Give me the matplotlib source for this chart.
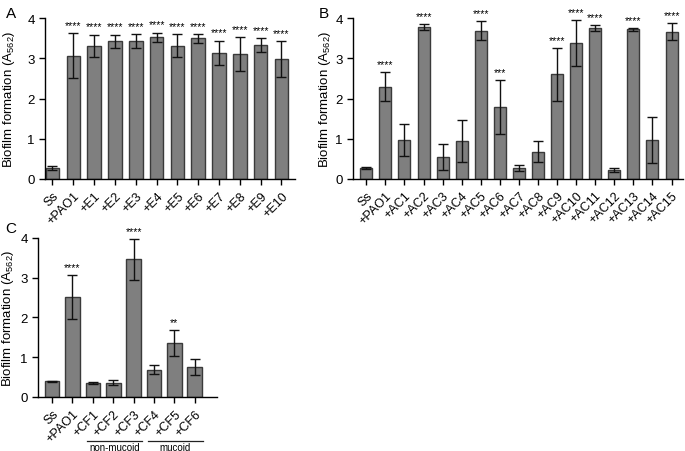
import matplotlib
matplotlib.use('Agg')
import matplotlib.pyplot as plt
import matplotlib.transforms as mtransforms
import numpy as np

plt.rcParams.update({
    'font.family': 'sans-serif',
    'font.sans-serif': ['Arial', 'Liberation Sans', 'DejaVu Sans'],
    'mathtext.default': 'regular',
    'font.size': 8.5,
    'axes.linewidth': 1.0,
    'xtick.major.width': 1.0,
    'ytick.major.width': 1.0,
    'xtick.major.size': 4,
    'ytick.major.size': 4,
    'axes.spines.top': False,
    'axes.spines.right': False,
})

BAR = '#7f7f7f'
EDGE = '#3a3a3a'

# ── Data ────────────────────────────────────────────────────
a_labels = ['Ss', '+PAO1', '+E1', '+E2', '+E3', '+E4', '+E5', '+E6',
            '+E7', '+E8', '+E9', '+E10']
a_mean = [0.27, 3.07, 3.31, 3.43, 3.43, 3.53, 3.32, 3.50, 3.14, 3.11, 3.33, 2.98]
a_err = [0.05, 0.56, 0.28, 0.16, 0.17, 0.11, 0.29, 0.11, 0.30, 0.42, 0.18, 0.45]
a_sig = ['', '****', '****', '****', '****', '****', '****', '****',
         '****', '****', '****', '****']

b_labels = ['Ss', '+PAO1'] + ['+AC%d' % i for i in range(1, 16)]
b_mean = [0.27, 2.30, 0.97, 3.78, 0.54, 0.94, 3.69, 1.79, 0.27, 0.68,
          2.60, 3.38, 3.75, 0.21, 3.72, 0.97, 3.66]
b_err = [0.03, 0.35, 0.40, 0.08, 0.32, 0.53, 0.23, 0.67, 0.08, 0.27,
         0.65, 0.58, 0.07, 0.05, 0.03, 0.57, 0.21]
b_sig = ['', '****', '', '****', '', '', '****', '***', '', '',
         '****', '****', '****', '', '****', '', '****']

c_labels = ['Ss', '+PAO1', '+CF1', '+CF2', '+CF3', '+CF4', '+CF5', '+CF6']
c_mean = [0.39, 2.51, 0.35, 0.36, 3.46, 0.69, 1.36, 0.76]
c_err = [0.02, 0.55, 0.03, 0.07, 0.51, 0.11, 0.33, 0.20]
c_sig = ['', '****', '', '', '****', '', '**', '']
c_groups = [('non-mucoid', '+CF1', '+CF3'), ('mucoid', '+CF4', '+CF6')]


def bar_panel(ax, labels, mean, err, sig, width, xlim, label_x):
    ax.spines['bottom'].set_position(('data', 0))
    ax.spines['left'].set_bounds(0, 4)
    x = np.arange(len(labels))
    ax.bar(x, mean, width, color=BAR, edgecolor=EDGE, linewidth=1.0)
    ax.errorbar(x, mean, yerr=err, fmt='none', ecolor='#111111',
                elinewidth=1.0, capsize=3.5, capthick=1.0)
    for xi, m, e, s in zip(x, mean, err, sig):
        if s:
            ax.text(xi, m + e + 0.08, s, ha='center', va='bottom', fontsize=7.5)
    ax.set_xticks(x)
    ax.set_xticklabels(labels, rotation=45, ha='right', rotation_mode='anchor',
                       fontsize=9)
    ax.set_xlim(*xlim)
    ax.set_ylim(0, 4)
    ax.set_yticks([0, 1, 2, 3, 4])
    ax.tick_params(axis='y', labelsize=9.5)
    ax.set_ylabel('Biofilm formation (A$_{562}$)', fontsize=9.5)
    ax.yaxis.set_label_coords(label_x, 0.5)


fig = plt.figure(figsize=(6.85, 4.52), dpi=100)
axA = fig.add_axes([0.0657, 0.602, 0.365, 0.3555])
axB = fig.add_axes([0.5153, 0.602, 0.4818, 0.3555])
axC = fig.add_axes([0.0555, 0.1195, 0.261, 0.352])

bar_panel(axA, a_labels, a_mean, a_err, a_sig, 0.65, (-0.36, 11.65), -0.114)
bar_panel(axB, b_labels, b_mean, b_err, b_sig, 0.63, (-0.7, 16.6), -0.06)
bar_panel(axC, c_labels, c_mean, c_err, c_sig, 0.72, (-0.69, 8.08), -0.125)

# group annotations under panel C
trans = mtransforms.blended_transform_factory(axC.transData, axC.transAxes)
for name, first, last in c_groups:
    i0, i1 = c_labels.index(first), c_labels.index(last)
    axC.plot([i0 - 0.3, i1 + 0.4], [-0.275, -0.275], transform=trans,
             color='#222222', linewidth=0.9, clip_on=False)
    axC.text((i0 + i1) / 2 + 0.05, -0.285, name, transform=trans,
             ha='center', va='top', fontsize=7)

fig.text(0.008, 0.985, 'A', fontsize=11, va='top')
fig.text(0.465, 0.985, 'B', fontsize=11, va='top')
fig.text(0.008, 0.508, 'C', fontsize=11, va='top')

fig.savefig('out.png', dpi=100)
